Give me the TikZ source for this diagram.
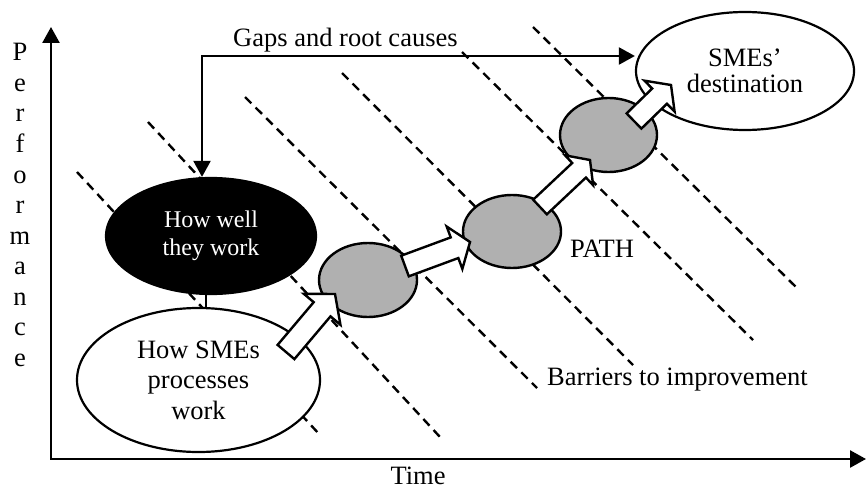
\documentclass[tikz,border=0pt]{standalone}
\usepackage{fontspec}
\setmainfont{Liberation Serif}
\usetikzlibrary{arrows.meta,calc,shapes.geometric}

\definecolor{bubblegrey}{RGB}{176,176,176}

\tikzset{
  headtip/.tip={Triangle[length=16pt,width=17pt]},
  txt/.style={font=\fontsize{26.5pt}{30.5pt}\selectfont},
  lbl/.style={txt, inner sep=0pt},
  axisline/.style={line width=2.6pt, line join=miter, headtip-headtip},
  gapline/.style={line width=2.2pt, headtip-headtip},
  linkline/.style={line width=2.2pt},
  barrier/.style={line width=2.4pt, dash pattern=on 9pt off 6pt},
  oval/.style={ellipse, draw, line width=2.2pt, fill=white, inner sep=0pt,
               align=center, txt},
  darkoval/.style={ellipse, draw, line width=2.2pt, fill=black, text=white,
                   inner sep=0pt, align=center,
                   font=\fontsize{24pt}{28pt}\selectfont},
  bubble/.style={ellipse, draw, line width=2.4pt, fill=bubblegrey, inner sep=0pt},
  blockarrow/.style={draw, fill=white, line width=2.4pt, line join=miter}
}

% block arrow: #1 tail, #2 tip, #3 shaft half-width, #4 head half-width, #5 head length
\newcommand\blkarrow[5]{%
  \coordinate (ba-base) at ($(#2)!#5!(#1)$);
  \filldraw[blockarrow]
    ($(#1)!#3!90:(#2)$) -- ($(ba-base)!#3!90:(#2)$) -- ($(ba-base)!#4!90:(#2)$)
    -- (#2)
    -- ($(ba-base)!#4!-90:(#2)$) -- ($(ba-base)!#3!-90:(#2)$) -- ($(#1)!#3!-90:(#2)$)
    -- cycle;
}

\begin{document}
\begin{tikzpicture}[x=1pt,y=-1pt]
\useasboundingbox (0,0) rectangle (866,489);

% barriers to improvement
\foreach \ax/\ay/\bx/\by in {77/172/320/435, 148/122/440/437, 245/97/537/388,
                             342/73/633/365, 462/52/753/340, 533/27/799/290}
  \draw[barrier] (\ax,\ay) -- (\bx,\by);

% axes
\coordinate (origin) at (51,459);
\coordinate (ytop) at (51,27);
\coordinate (xend) at (866,459);
\draw[axisline] (ytop) -- (origin) -- (xend);

\foreach \ch [count=\i from 0] in {P,e,r,f,o,r,m,a,n,c,e}
  \node[txt, anchor=base, inner sep=0pt] (perf\i) at (20,{61+30.5*\i}) {\ch};
\node[lbl, anchor=base] (timelbl) at (418,484) {Time};

% stages along the path
\node[darkoval, minimum width=210pt, minimum height=116pt] (bw) at (211,236)
  {How well\\they work};
\node[oval, minimum width=243pt, minimum height=144pt] (ws) at (198.5,380)
  {How SMEs\\processes\\work};
\node[bubble, minimum width=98pt, minimum height=74pt] (c1) at (368,280) {};
\node[bubble, minimum width=98pt, minimum height=73pt] (c2) at (512,231.5) {};
\node[bubble, minimum width=97pt, minimum height=74pt] (c3) at (608.5,135) {};
\node[oval, minimum width=218pt, minimum height=118pt,
      font=\fontsize{26.5pt}{26pt}\selectfont] (dest) at (745,71)
  {SMEs’\\destination};

% block arrows between the stages
\coordinate (a1t) at (286,352); \coordinate (a1h) at (335,294);
\coordinate (a2t) at (405,266); \coordinate (a2h) at (470,242);
\coordinate (a3t) at (540,207); \coordinate (a3h) at (590,160);
\coordinate (a4t) at (634,121); \coordinate (a4h) at (671,85);
\blkarrow{a1t}{a1h}{11pt}{24pt}{20pt}
\blkarrow{a2t}{a2h}{11pt}{22.6pt}{16.5pt}
\blkarrow{a3t}{a3h}{10pt}{20.5pt}{15pt}
\blkarrow{a4t}{a4h}{10.6pt}{21.6pt}{16pt}

% gaps and root causes
\coordinate (gapx) at (202,56);
\draw[gapline] (bw.north -| gapx) |- (dest.west |- gapx);
\coordinate (linkx) at (206,0);
\draw[linkline] (bw.south -| linkx) -- (ws.north -| linkx);

\node[lbl, anchor=base west] (gaps) at (233,47) {Gaps and root causes};
\node[lbl, anchor=base west] (pathlbl) at (570,257) {PATH};
\node[lbl, anchor=base west] (barriers) at (547,385) {Barriers to improvement};
\end{tikzpicture}
\end{document}
